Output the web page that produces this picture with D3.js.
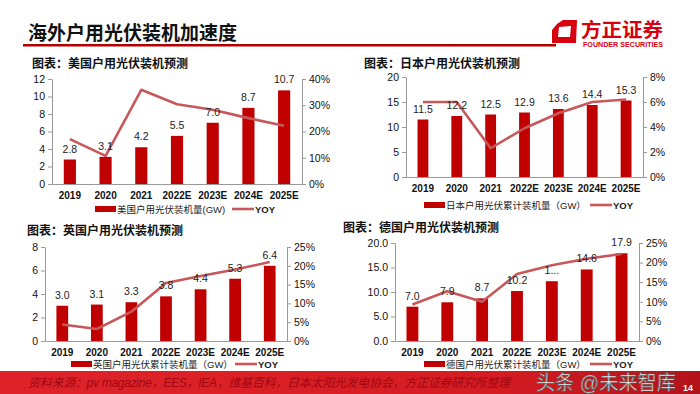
<!DOCTYPE html>
<html>
<head>
<meta charset="utf-8">
<script src="https://cdn.jsdelivr.net/npm/d3@7"></script>
<style>
	body { margin: 0; background: #fff; }
	svg { display: block; font-family: "Liberation Sans", "Noto Sans CJK SC", sans-serif; }
	.axis path, .axis line { stroke: #999; }
	.axis text { fill: #111; font-size: 10.5px; }
</style>
</head>
<body>
<svg id="slide" width="700" height="394"></svg>
<script>
var years = ["2019", "2020", "2021", "2022E", "2023E", "2024E", "2025E"];

var usInstall = [2.8, 3.1, 4.2, 5.5, 7.0, 8.7, 10.7];
var usYoy = [17.1, 10.7, 35.9, 30.4, 28.3, 25.1, 22.2];
var jpInstall = [11.5, 12.2, 12.5, 12.9, 13.6, 14.4, 15.3];
var jpYoy = [6.0, 6.0, 2.3, 3.9, 5.1, 6.0, 6.2];
var ukInstall = [3.0, 3.1, 3.3, 3.8, 4.4, 5.3, 6.4];
var ukYoy = [4.4, 3.2, 7.8, 15.4, 17.3, 19.0, 21.0];
var deInstall = [7.0, 7.9, 8.7, 10.2, 12.2, 14.6, 17.9];
var deYoy = [9.3, 12.7, 10.0, 17.1, 19.3, 21.0, 22.2];
// the 2023E label is cut off in the source picture
var deLabels = ["7.0", "7.9", "8.7", "10.2", "1...", "14.6", "17.9"];

var usTicks = [0, 2, 4, 6, 8, 10, 12], usPct = [0, 10, 20, 30, 40];
var jpTicks = [0, 5, 10, 15, 20], jpPct = [0, 2, 4, 6, 8];
var ukTicks = [0, 2, 4, 6, 8], ukPct = [0, 5, 10, 15, 20, 25];
var deTicks = [0, 5, 10, 15, 20], dePct = [0, 5, 10, 15, 20, 25];

var barColor = "#c00000", lineColor = "#c8575a";
var svg = d3.select("#slide");

// header
svg.append("text").attr("x", 28).attr("y", 40).attr("font-size", 19).attr("font-weight", "bold")
	.attr("fill", "#111").text("海外户用光伏装机加速度");
svg.append("rect").attr("x", 23).attr("y", 44).attr("width", 533).attr("height", 2.5).attr("fill", "#b00000");
// logo
svg.append("path").attr("d", "M557,24 L563,20 L577,20 L576,43 L552,43 L552,30 Z").attr("fill", "#d7000f");
svg.append("path").attr("d", "M559,27 L571,26 L570,37 L558,37 Z").attr("fill", "#fff");
svg.append("text").attr("x", 581).attr("y", 37).attr("font-size", 19).attr("font-weight", "bold")
	.attr("fill", "#d7000f").attr("textLength", 82).attr("lengthAdjust", "spacingAndGlyphs").text("方正证券");
svg.append("text").attr("x", 583).attr("y", 47).attr("font-size", 6.5).attr("font-weight", "bold")
	.attr("fill", "#d7000f").attr("textLength", 80).attr("lengthAdjust", "spacingAndGlyphs").text("FOUNDER SECURITIES");

function drawChart(c) {
	var g = svg.append("g");
	g.append("text").attr("x", c.titleX).attr("y", c.titleY).attr("font-size", 12).attr("font-weight", "bold")
		.attr("fill", "#111").text(c.title);
	var x = d3.scaleBand().domain(years).range([c.left, c.right]).paddingInner(c.pad).paddingOuter(c.pad / 2);
	var y = d3.scaleLinear().domain([0, d3.max(c.ticks)]).range([c.bottom, c.top]);
	var yp = d3.scaleLinear().domain([0, d3.max(c.pct)]).range([c.bottom, c.top]);

	g.append("g").attr("class", "axis").attr("transform", "translate(" + c.left + ",0)")
		.call(d3.axisLeft(y).tickValues(c.ticks).tickSize(4).tickSizeOuter(0).tickFormat(d3.format(c.fmt)));
	g.append("g").attr("class", "axis").attr("transform", "translate(" + c.right + ",0)")
		.call(d3.axisRight(yp).tickValues(c.pct).tickSize(4).tickSizeOuter(0).tickFormat(function(d) { return d + "%"; }));
	var xa = g.append("g").attr("class", "axis").attr("transform", "translate(0," + c.bottom + ")")
		.call(d3.axisBottom(x).tickSize(0).tickPadding(8));
	xa.selectAll("text").attr("font-weight", "bold").style("font-size", "10px");

	g.selectAll("rect.bar").data(c.install).enter().append("rect").attr("class", "bar")
		.attr("x", function(d, i) { return x(years[i]); })
		.attr("y", function(d) { return y(d); })
		.attr("width", x.bandwidth())
		.attr("height", function(d) { return c.bottom - y(d); })
		.attr("fill", barColor);

	var line = d3.line().x(function(d, i) { return x(years[i]) + x.bandwidth() / 2; }).y(function(d) { return yp(d); });
	g.append("path").datum(c.yoy).attr("d", line).attr("fill", "none")
		.attr("stroke", lineColor).attr("stroke-width", 2.6).attr("stroke-linejoin", "round");

	g.selectAll("text.val").data(c.install).enter().append("text").attr("class", "val")
		.attr("x", function(d, i) { return x(years[i]) + x.bandwidth() / 2; })
		.attr("y", function(d) { return y(d) - 7; })
		.attr("text-anchor", "middle").attr("font-size", 10.5).attr("fill", "#222")
		.text(function(d, i) { return c.labels ? c.labels[i] : d.toFixed(1); });

	// legend
	g.append("rect").attr("x", c.legX).attr("y", c.legY - 3).attr("width", 21).attr("height", 6).attr("fill", barColor);
	g.append("text").attr("x", c.legX + 22).attr("y", c.legY + 3.5).attr("font-size", 9.5).attr("fill", "#222").text(c.legend);
	g.append("line").attr("x1", c.lineX).attr("x2", c.lineX + 22).attr("y1", c.legY).attr("y2", c.legY)
		.attr("stroke", lineColor).attr("stroke-width", 2.6);
	g.append("text").attr("x", c.lineX + 23).attr("y", c.legY + 3.5).attr("font-size", 9.5).attr("font-weight", "bold")
		.attr("fill", "#222").text("YOY");
}

drawChart({ title: "图表：美国户用光伏装机预测", titleX: 32, titleY: 68, left: 52, right: 302, top: 79, bottom: 184, pad: 0.66,
	install: usInstall, yoy: usYoy, ticks: usTicks, pct: usPct, fmt: "d",
	legend: "美国户用光伏装机量(GW)", legX: 95, lineX: 232, legY: 209 });
drawChart({ title: "图表：日本户用光伏装机预测", titleX: 364, titleY: 68, left: 406, right: 643, top: 77, bottom: 177, pad: 0.68,
	install: jpInstall, yoy: jpYoy, ticks: jpTicks, pct: jpPct, fmt: "d",
	legend: "日本户用光伏累计装机量（GW）", legX: 424, lineX: 590, legY: 205 });
drawChart({ title: "图表：英国户用光伏装机预测", titleX: 27, titleY: 235, left: 45, right: 287, top: 247, bottom: 341, pad: 0.66,
	install: ukInstall, yoy: ukYoy, ticks: ukTicks, pct: ukPct, fmt: "d",
	legend: "英国户用光伏累计装机量（GW）", legX: 71, lineX: 235, legY: 364 });
drawChart({ title: "图表：德国户用光伏装机预测", titleX: 343, titleY: 232, left: 395, right: 639, top: 243, bottom: 341, pad: 0.66,
	install: deInstall, yoy: deYoy, ticks: deTicks, pct: dePct, fmt: ".1f", labels: deLabels,
	legend: "德国户用光伏累计装机量（GW）", legX: 424, lineX: 590, legY: 364 });

// footer band
var grad = svg.append("defs").append("linearGradient").attr("id", "foot").attr("x1", 0).attr("x2", 1);
grad.append("stop").attr("offset", 0).attr("stop-color", "#e0232a");
grad.append("stop").attr("offset", 0.7).attr("stop-color", "#d51c22");
grad.append("stop").attr("offset", 1).attr("stop-color", "#b3121a");
svg.append("rect").attr("x", 0).attr("y", 371).attr("width", 700).attr("height", 23).attr("fill", "url(#foot)");
svg.append("text").attr("x", 28).attr("y", 387).attr("font-size", 12).attr("font-style", "italic")
	.attr("fill", "#a00812").attr("textLength", 482)
	.text("资料来源：pv magazine，EES，IEA，维基百科，日本太阳光发电协会，方正证券研究所整理");
svg.append("text").attr("x", 536).attr("y", 390).attr("font-size", 20).attr("fill", "#f4f4f4")
	.attr("stroke", "#555").attr("stroke-width", 0.7).attr("textLength", 140).attr("lengthAdjust", "spacingAndGlyphs")
	.text("头条 @未来智库");
svg.append("text").attr("x", 683).attr("y", 391).attr("font-size", 9).attr("font-weight", "bold").attr("fill", "#fff").text("14");
</script>
</body>
</html>
